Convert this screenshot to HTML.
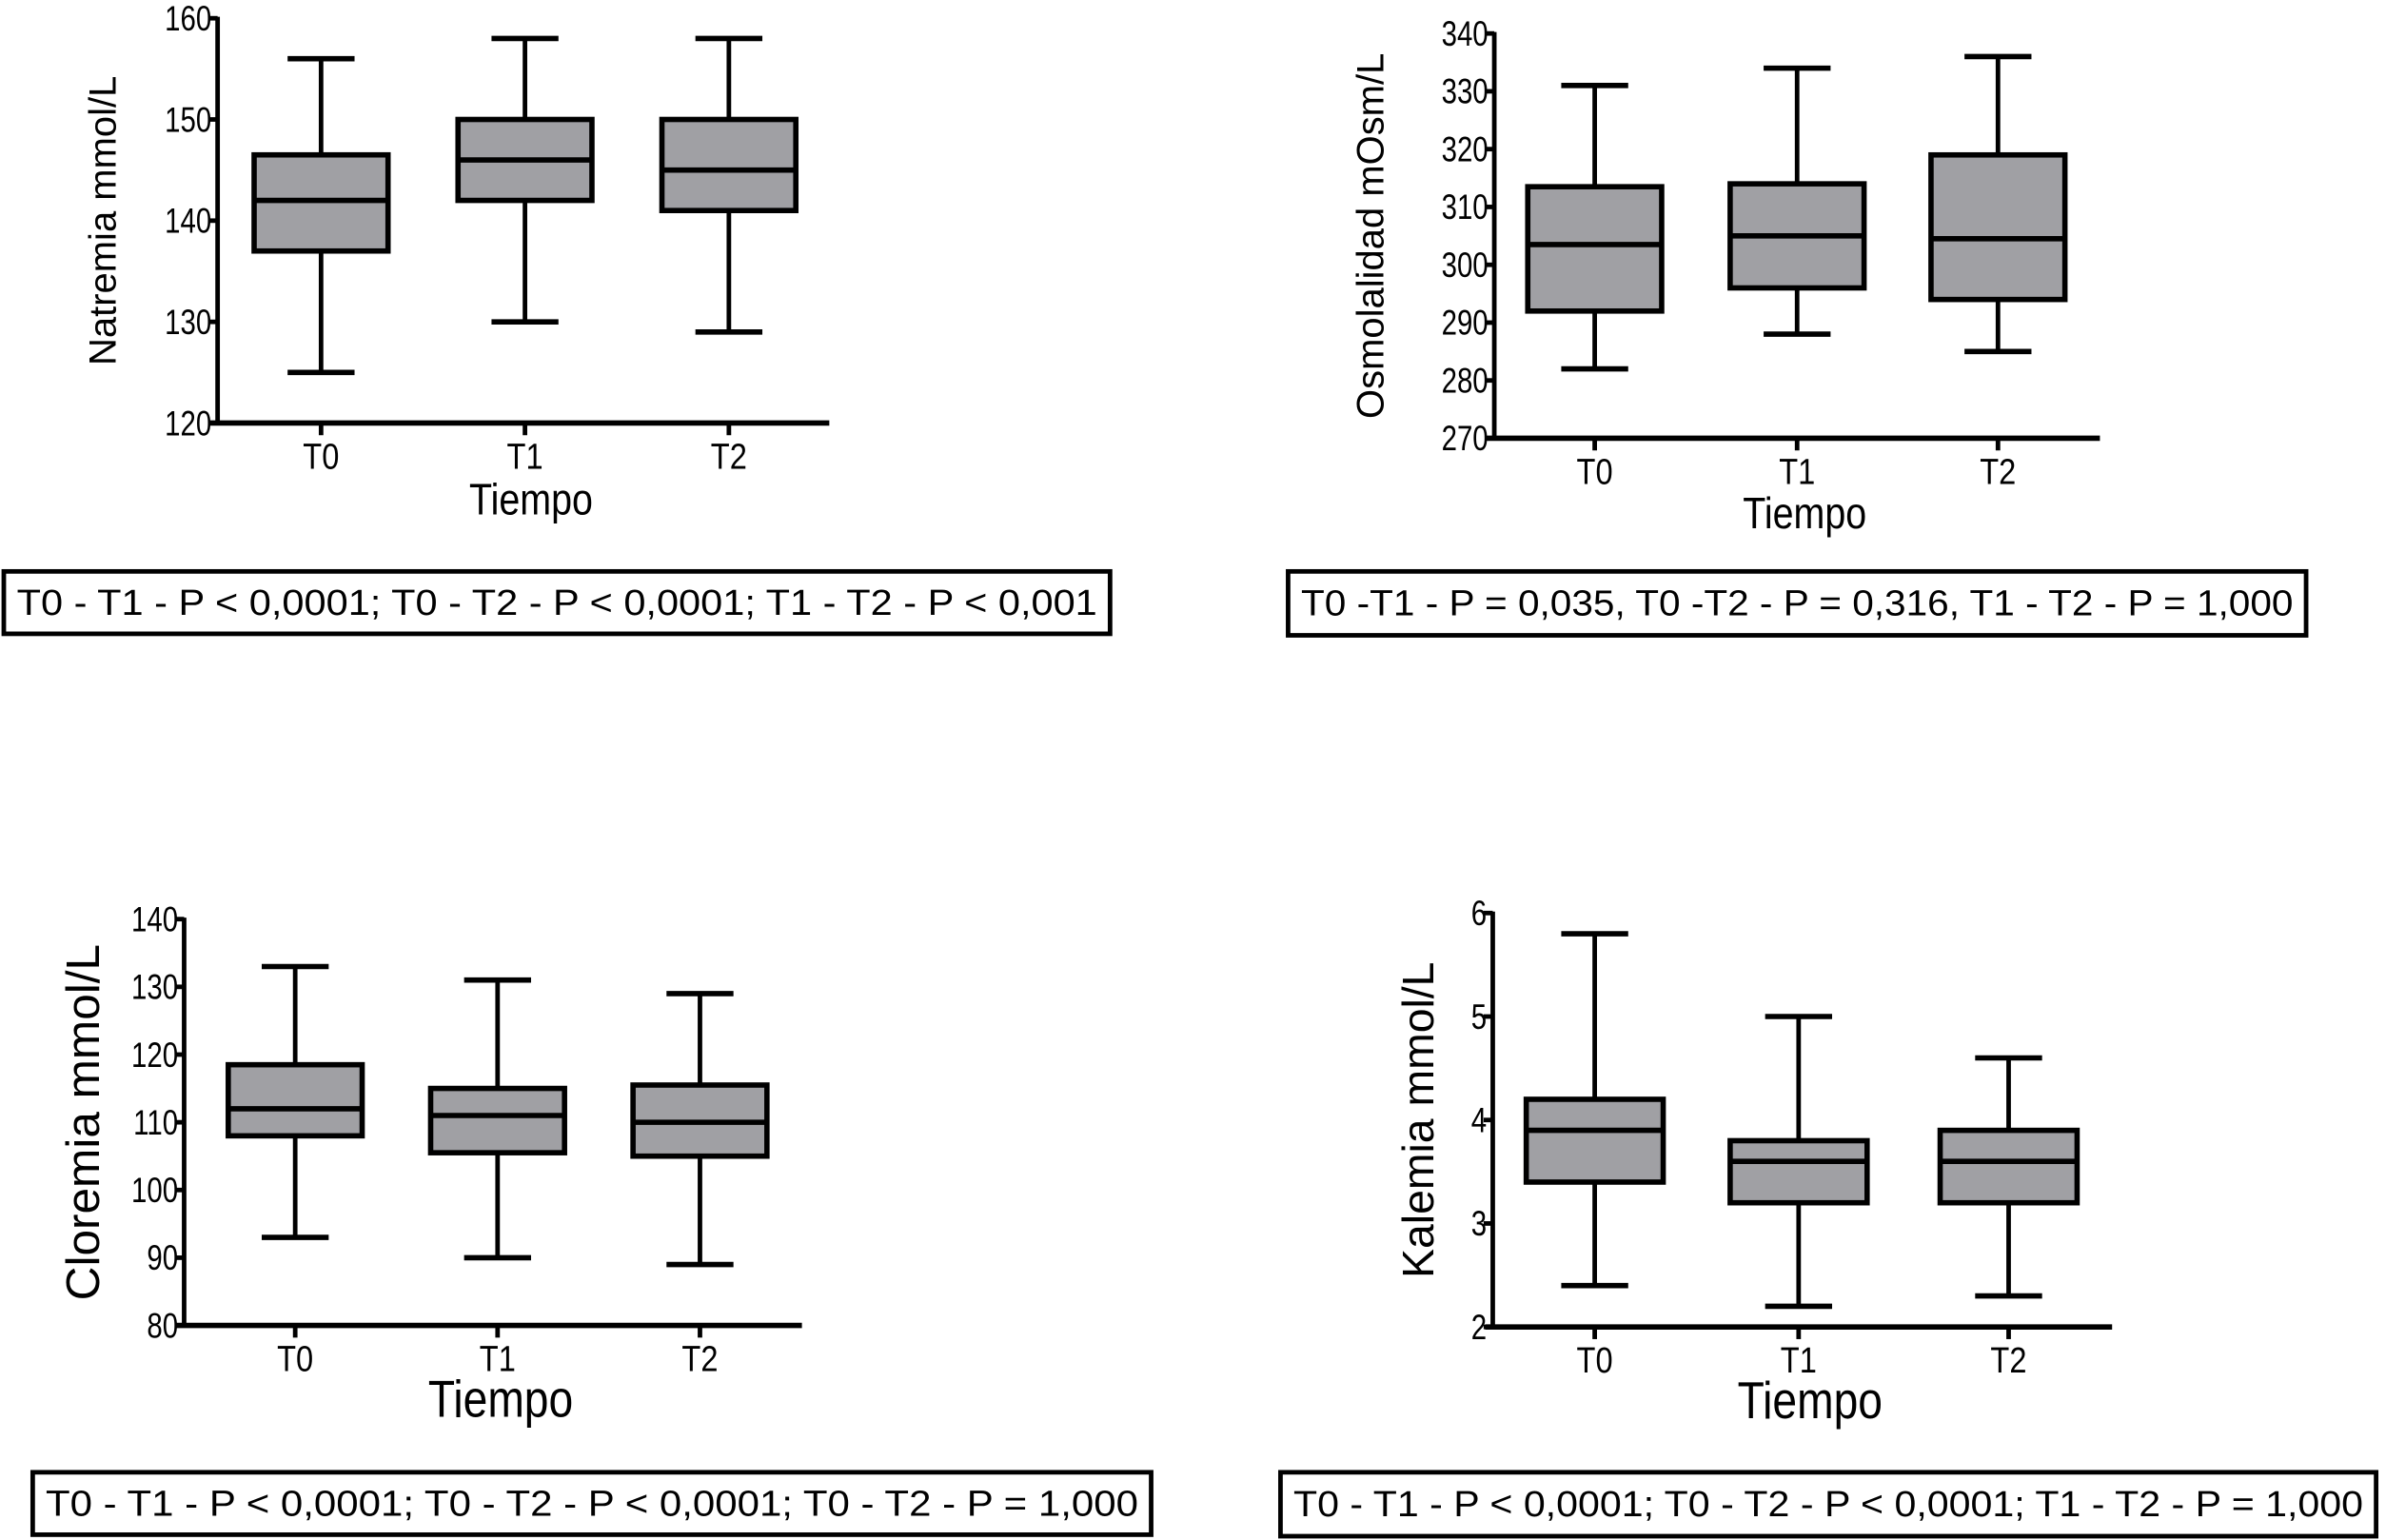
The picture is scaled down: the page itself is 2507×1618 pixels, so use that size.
<!DOCTYPE html>
<html><head><meta charset="utf-8"><style>
html,body{margin:0;padding:0;background:#fff;}
svg{display:block;}
text{font-family:"Liberation Sans",sans-serif;fill:#000;}
</style></head>
<body>
<svg id="fig" width="2507" height="1618" viewBox="0 0 1568 1012" preserveAspectRatio="none" xmlns="http://www.w3.org/2000/svg"></svg>
<script>
const categories = ["T0","T1","T2"];
// Natremia
const natMin=[125,130,129], natQ1=[137,142,141], natMed=[142,146,145], natQ3=[146.5,150,150], natMax=[156,158,158];
const natTicks=[120,130,140,150,160];
// Osmolalidad
const osmMin=[282,288,285], osmQ1=[292,296,294], osmMed=[303.5,305,304.5], osmQ3=[313.5,314,319], osmMax=[331,334,336];
const osmTicks=[270,280,290,300,310,320,330,340];
// Cloremia
const cloMin=[93,90,89], cloQ1=[108,105.5,105], cloMed=[112,111,110], cloQ3=[118.5,115,115.5], cloMax=[133,131,129];
const cloTicks=[80,90,100,110,120,130,140];
// Kalemia
const kalMin=[2.4,2.2,2.3], kalQ1=[3.4,3.2,3.2], kalMed=[3.9,3.6,3.6], kalQ3=[4.2,3.8,3.9], kalMax=[5.8,5.0,4.6];
const kalTicks=[2,3,4,5,6];

const NS="http://www.w3.org/2000/svg";
const svg=document.getElementById('fig');
function mk(tag,attrs,parent){const e=document.createElementNS(NS,tag);for(const k in attrs)e.setAttribute(k,attrs[k]);(parent||svg).appendChild(e);return e;}

const panels=[
 {key:'natremia',ax:143,ytop:12,ybot:278,xend:545,centers:[211,345,479],hw:44,cw:22,ticks:natTicks,mn:natMin,q1:natQ1,md:natMed,q3:natQ3,mx:natMax,
  ytitle:'Natremia mmol/L',ytx:76,ytfs:25,tfs:29,tly:338,stat:'T0 - T1 - P < 0,0001; T0 - T2 - P < 0,0001; T1 - T2 - P < 0,001',sb:[1,374,730,44]},
 {key:'osmolalidad',ax:982,ytop:22,ybot:288,xend:1380,centers:[1048,1181,1313],hw:44,cw:22,ticks:osmTicks,mn:osmMin,q1:osmQ1,md:osmMed,q3:osmQ3,mx:osmMax,
  ytitle:'Osmolalidad mOsm/L',ytx:909,ytfs:25,tfs:29,tly:347,stat:'T0 -T1 - P = 0,035, T0 -T2 - P = 0,316, T1 - T2 - P = 1,000',sb:[845,374,672,45]},
 {key:'cloremia',ax:121,ytop:604,ybot:871,xend:527,centers:[194,327,460],hw:44,cw:22,ticks:cloTicks,mn:cloMin,q1:cloQ1,md:cloMed,q3:cloQ3,mx:cloMax,
  ytitle:'Cloremia mmol/L',ytx:65,ytfs:31,tfs:34,tly:931,stat:'T0 - T1 - P < 0,0001; T0 - T2 - P < 0,0001; T0 - T2 - P = 1,000',sb:[20,966,738,44]},
 {key:'kalemia',ax:981,ytop:600,ybot:872,xend:1388,centers:[1048,1182,1320],hw:45,cw:22,ticks:kalTicks,mn:kalMin,q1:kalQ1,md:kalMed,q3:kalQ3,mx:kalMax,
  ytitle:'Kalemia mmol/L',ytx:942,ytfs:29,tfs:34,tly:932,stat:'T0 - T1 - P < 0,0001; T0 - T2 - P < 0,0001; T1 - T2 - P = 1,000',sb:[840,966,723,45]}
];

panels.forEach(p=>{
  const g=mk('g',{});
  
  
  const t0=p.ticks[0], t1=p.ticks[p.ticks.length-1];
  const y=v=>p.ybot-(v-t0)/(t1-t0)*(p.ybot-p.ytop);
  const ya=mk('line',{x1:p.ax,y1:p.ytop-1,x2:p.ax,y2:p.ybot,stroke:'#000','stroke-width':3},g);
  
  
  const xa=mk('line',{x1:p.ax-5,y1:p.ybot,x2:p.xend,y2:p.ybot,stroke:'#000','stroke-width':3.5},g);
  
  
  p.ticks.forEach(tv=>{
    mk('line',{x1:p.ax-6,y1:y(tv),x2:p.ax,y2:y(tv),stroke:'#000','stroke-width':3},g);
    const tl=mk('text',{x:p.ax-4,y:y(tv)+8,'text-anchor':'end','font-size':23,transform:`translate(${p.ax-4},0) scale(0.8,1) translate(${-(p.ax-4)},0)`},g);
    tl.textContent=tv;
    
    
  });
  categories.forEach((c,i)=>{
    const cx=p.centers[i];
    mk('line',{x1:cx,y1:p.ybot,x2:cx,y2:p.ybot+8,stroke:'#000','stroke-width':3},g);
    const xl=mk('text',{x:cx,y:p.ybot+30,'text-anchor':'middle','font-size':24,transform:`translate(${cx},0) scale(0.85,1) translate(${-cx},0)`},g);
    xl.textContent=c;
    
    
    const wk=mk('line',{x1:cx,y1:y(p.mx[i]),x2:cx,y2:y(p.mn[i]),stroke:'#000','stroke-width':3},g);
    
    
    [p.mx[i],p.mn[i]].forEach(v=>{
      const cap=mk('line',{x1:cx-p.cw,y1:y(v),x2:cx+p.cw,y2:y(v),stroke:'#000','stroke-width':3.5},g);
      
      
    });
    const bx=mk('rect',{x:cx-p.hw,y:y(p.q3[i]),width:2*p.hw,height:y(p.q1[i])-y(p.q3[i]),fill:'#a0a0a4',stroke:'#000','stroke-width':3.5},g);
    
    
    const md=mk('line',{x1:cx-p.hw,y1:y(p.md[i]),x2:cx+p.hw+1,y2:y(p.md[i]),stroke:'#000','stroke-width':3.5},g);
    
    
  });
  const yt=mk('text',{x:0,y:0,'text-anchor':'middle','font-size':p.ytfs,transform:`translate(${p.ytx},${(p.ytop+p.ybot)/2}) rotate(-90)`},g);
  yt.textContent=p.ytitle;
  
  
  const xc=(p.ax+p.xend)/2+5;
  const xt=mk('text',{x:xc,y:p.tly,'text-anchor':'middle','font-size':p.tfs,transform:`translate(${xc},0) scale(0.85,1) translate(${-xc},0)`},g);
  xt.textContent='Tiempo';
  
  
  const [sx,sy,sw,sh]=p.sb;
  const sr=mk('rect',{x:sx+1.5,y:sy+1.5,width:sw-3,height:sh-3,fill:'none',stroke:'#000','stroke-width':3},g);
  
  
  const st=mk('text',{x:sx+10,y:sy+sh/2+8,'font-size':24,textLength:sw-20,lengthAdjust:'spacingAndGlyphs'},g);
  st.textContent=p.stat;
  
  
});
</script>
</body></html>
